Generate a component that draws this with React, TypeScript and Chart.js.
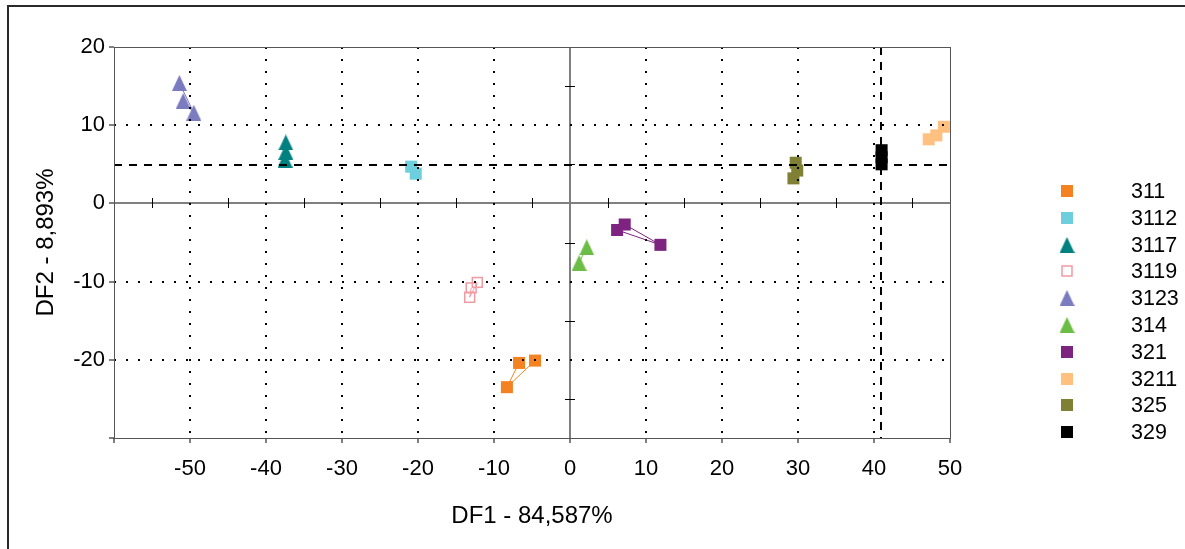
import React, { useEffect, useRef } from 'react';
import { Chart, registerables } from 'chart.js';
Chart.register(...registerables);

// ---- data ----
const groups = ['311', '3112', '3117', '3119', '3123', '314', '321', '3211', '325', '329'];
const colors = ['#F58220', '#6DCEDD', '#00807F', '#F29AA2', '#7B7BC0', '#6CBD45', '#7D2480', '#FFC080', '#808034', '#000000'];
const shapes = ['square', 'square', 'triangle', 'open', 'triangle', 'triangle', 'square', 'square', 'square', 'square'];

const df1_311 = [-6.7, -8.3, -4.6];
const df2_311 = [-20.4, -23.5, -20.1];
const df1_3112 = [-20.9, -20.3];
const df2_3112 = [4.7, 3.8];
const df1_3117 = [-37.4, -37.5, -37.4];
const df2_3117 = [7.8, 5.6, 6.6];
const df1_3119 = [-12.2, -13.2, -13.0];
const df2_3119 = [-10.1, -12.0, -10.8];
const df1_3123 = [-51.4, -49.5, -50.9];
const df2_3123 = [15.4, 11.6, 13.1];
const df1_314 = [2.2, 1.2];
const df2_314 = [-5.6, -7.6];
const df1_321 = [6.2, 11.9, 7.2];
const df2_321 = [-3.4, -5.3, -2.7];
const df1_3211 = [49.2, 48.2, 47.2];
const df2_3211 = [9.8, 8.7, 8.2];
const df1_325 = [29.7, 29.4, 29.9];
const df2_325 = [5.2, 3.2, 4.2];
const df1_329 = [41.0, 41.0, 41.0];
const df2_329 = [6.8, 5.0, 5.9];

const seriesX = [df1_311, df1_3112, df1_3117, df1_3119, df1_3123, df1_314, df1_321, df1_3211, df1_325, df1_329];
const seriesY = [df2_311, df2_3112, df2_3117, df2_3119, df2_3123, df2_314, df2_321, df2_3211, df2_325, df2_329];

const xMin = -60, xMax = 50, yMin = -30, yMax = 20;
const xTickLabels = [-50, -40, -30, -20, -10, 0, 10, 20, 30, 40, 50];
const yTickLabels = [-20, -10, 0, 10, 20];
const minorTicksX = [-55, -45, -35, -25, -15, -5, 5, 15, 25, 35, 45];
const minorTicksY = [-25, -15, -5, 5, 15];
const refDF1 = 40.9;
const refDF2 = 4.9;
const xTitle = 'DF1 - 84,587%';
const yTitle = 'DF2 - 8,893%';

const FONT = '"Liberation Sans", Arial, sans-serif';

function triImg(color: string) {
  const w = 15, h = 16;
  const c = document.createElement('canvas');
  c.width = w; c.height = h;
  const g = c.getContext('2d')!;
  g.fillStyle = color;
  g.beginPath();
  g.moveTo(w / 2, 0);
  g.lineTo(w, h);
  g.lineTo(0, h);
  g.closePath();
  g.fill();
  return c;
}

export default function App() {
  const ref = useRef<HTMLCanvasElement>(null);
  useEffect(() => {
    const tris = colors.map((c) => triImg(c));
    const datasets = groups.map((g, i) => {
      const shape = shapes[i];
      const data = seriesX[i].map((x, k) => ({ x, y: seriesY[i][k] }));
      const base: any = {
        label: g,
        data,
        showLine: true,
        borderColor: colors[i],
        borderWidth: 1,
        pointRadius: 8.5,
        pointBorderWidth: 0,
        pointBackgroundColor: colors[i],
        pointBorderColor: colors[i],
      };
      if (shape === 'triangle') base.pointStyle = tris[i];
      else if (shape === 'open') {
        base.pointStyle = 'rect';
        base.pointRadius = 7;
        base.pointBorderWidth = 1.5;
        base.pointBackgroundColor = 'rgba(255,255,255,0)';
      } else base.pointStyle = 'rect';
      return base;
    });

    const decor = {
      id: 'decor',
      beforeDatasetsDraw(chart: any) {
        const { ctx, scales: { x, y }, chartArea: a } = chart;
        ctx.save();
        const px0 = Math.round(x.getPixelForValue(0));
        const py0 = Math.round(y.getPixelForValue(0));
        ctx.strokeStyle = '#808080';
        ctx.lineWidth = 2;
        ctx.beginPath();
        ctx.moveTo(px0, a.top); ctx.lineTo(px0, a.bottom);
        ctx.moveTo(a.left, py0); ctx.lineTo(a.right, py0);
        ctx.stroke();
        ctx.strokeStyle = '#000';
        ctx.lineWidth = 1;
        ctx.beginPath();
        minorTicksY.forEach((v) => {
          const p = Math.round(y.getPixelForValue(v)) + 0.5;
          ctx.moveTo(px0 - 5, p); ctx.lineTo(px0 + 5, p);
        });
        minorTicksX.forEach((v) => {
          const p = Math.round(x.getPixelForValue(v)) + 0.5;
          ctx.moveTo(p, py0 - 5); ctx.lineTo(p, py0 + 5);
        });
        ctx.stroke();
        ctx.restore();
      },
      afterDatasetsDraw(chart: any) {
        const { ctx, scales: { x, y }, chartArea: a } = chart;
        ctx.save();
        ctx.strokeStyle = '#000';
        ctx.lineWidth = 2;
        ctx.setLineDash([8, 7]);
        const py = Math.round(y.getPixelForValue(refDF2));
        const px = Math.round(x.getPixelForValue(refDF1));
        ctx.beginPath();
        ctx.moveTo(a.left, py); ctx.lineTo(a.right, py);
        ctx.moveTo(px, a.top); ctx.lineTo(px, a.bottom);
        ctx.stroke();
        ctx.restore();
      },
      afterDraw(chart: any) {
        const { ctx, chartArea: a } = chart;
        ctx.save();
        // plot box
        ctx.strokeStyle = '#555';
        ctx.lineWidth = 1;
        ctx.strokeRect(Math.round(a.left) + 0.5, Math.round(a.top) + 0.5, Math.round(a.right - a.left), Math.round(a.bottom - a.top));
        // outer frame
        ctx.strokeStyle = '#2a2a2a';
        ctx.lineWidth = 2;
        ctx.beginPath();
        ctx.moveTo(8, 549); ctx.lineTo(8, 6); ctx.lineTo(1185, 6);
        ctx.stroke();
        // legend
        const lx = 1067, ly0 = 191, dy = 26.8;
        ctx.font = `21.5px ${FONT}`;
        ctx.textBaseline = 'middle';
        ctx.textAlign = 'left';
        groups.forEach((g, i) => {
          const cy = Math.round(ly0 + i * dy);
          const s = shapes[i];
          if (s === 'square') {
            ctx.fillStyle = colors[i];
            ctx.fillRect(lx - 6, cy - 6, 12, 12);
          } else if (s === 'open') {
            ctx.strokeStyle = colors[i];
            ctx.lineWidth = 1.5;
            ctx.strokeRect(lx - 5, cy - 5, 10, 10);
          } else {
            ctx.drawImage(tris[i], lx - 7.5, cy - 8);
          }
          ctx.fillStyle = '#000';
          ctx.fillText(g, 1131, cy + 1);
        });
        ctx.restore();
      },
    };

    const gridColor = (lo: number, hi: number) => (c: any) => {
      const v = c.tick && c.tick.value;
      if (v === 0 || v === lo || v === hi) return 'rgba(0,0,0,0)';
      return '#000';
    };

    const chart = new Chart(ref.current!, {
      type: 'scatter',
      data: { datasets },
      plugins: [decor],
      options: {
        animation: false,
        responsive: true,
        maintainAspectRatio: false,
        layout: { padding: { left: 0, right: 235, top: 47, bottom: 0 } },
        plugins: { legend: { display: false }, tooltip: { enabled: false } },
        scales: {
          x: {
            type: 'linear',
            min: xMin,
            max: xMax,
            afterFit: (s: any) => { s.height = 111; },
            afterBuildTicks: (s: any) => { s.ticks = [xMin, ...xTickLabels].map((v) => ({ value: v })); },
            ticks: {
              stepSize: 10,
              padding: 13,
              color: '#000',
              font: { family: FONT, size: 22 },
              maxRotation: 0,
              callback: (v: any) => (v === xMin ? '' : String(v)),
            },
            grid: {
              z: 1,
              color: gridColor(xMin, xMax),
              lineWidth: 2,
              tickColor: '#000',
              tickLength: 5,
              tickWidth: 1,
            },
            border: { display: false, dash: [2, 10] },
            title: {
              display: true,
              text: xTitle,
              color: '#000',
              font: { family: FONT, size: 24 },
              padding: { top: 0, bottom: 18 },
            },
          },
          y: {
            type: 'linear',
            min: yMin,
            max: yMax,
            afterFit: (s: any) => { s.width = 114; },
            afterBuildTicks: (s: any) => { s.ticks = [yMin, ...yTickLabels].map((v) => ({ value: v })); },
            ticks: {
              stepSize: 10,
              padding: 4,
              color: '#000',
              font: { family: FONT, size: 22 },
              callback: (v: any) => (v === yMin ? '' : String(v)),
            },
            grid: {
              z: 1,
              color: gridColor(yMin, yMax),
              lineWidth: 2,
              tickColor: '#000',
              tickLength: 5,
              tickWidth: 1,
            },
            border: { display: false, dash: [2, 10] },
            title: {
              display: true,
              text: yTitle,
              color: '#000',
              font: { family: FONT, size: 24 },
              padding: { top: 32, bottom: 0 },
            },
          },
        },
      },
    });
    return () => chart.destroy();
  }, []);

  return (
    <div style={{ position: 'fixed', left: 0, top: 0, width: 1185, height: 549, background: '#fff' }}>
      <canvas ref={ref} />
    </div>
  );
}
